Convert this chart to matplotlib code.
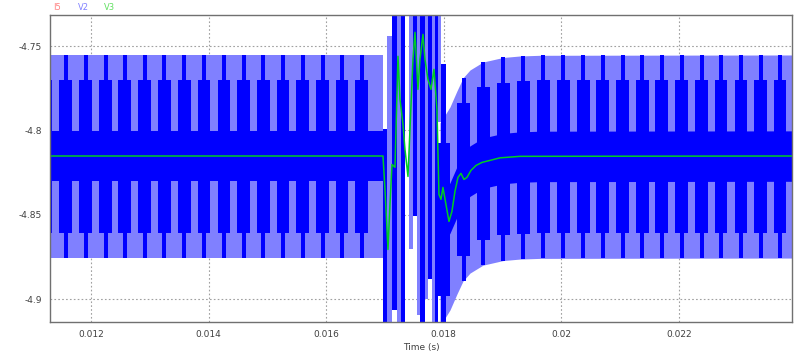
import numpy as np
import matplotlib.pyplot as plt

# axis ranges (s, V)
t_lim = (0.011303, 0.023922)
v_lim = (-4.9136, -4.7316)
t_ticks = [0.012, 0.014, 0.016, 0.018, 0.02, 0.022]
t_ticklabels = ['0.012', '0.014', '0.016', '0.018', '0.02', '0.022']
v_ticks = [-4.9, -4.85, -4.8, -4.75]
v_ticklabels = ['-4.9', '-4.85', '-4.8', '-4.75']

# V2 switching band levels (steady state)
env_top, env_bot = -4.7553, -4.8757
blk_top, blk_bot = -4.7702, -4.8607
core_top, core_bot = -4.8003, -4.8302

# steady section before the disturbance
steady_t = [0.011303, 0.016966]

# switching pulse centres (s)
pulses_left = [0.011235, 0.011570, 0.011910, 0.012250, 0.012573, 0.012913, 0.013247,
               0.013587, 0.013922, 0.014262, 0.014597, 0.014930, 0.015265, 0.015600,
               0.015940, 0.016269, 0.016604]
pulses_right = [0.018002, 0.018337, 0.018672, 0.019012, 0.019352, 0.019692, 0.020032,
                0.020372, 0.020702, 0.021042, 0.021375, 0.021705, 0.022045, 0.022386,
                0.022714, 0.023054, 0.023389, 0.023717]
pulses_right_shift = [0.0374, 0.0136, 0.0042, 0.0015, 0.0006, 0.0002, 0, 0, 0,
                      0, 0, 0, 0, 0, 0, 0, 0, 0]

# recovery: downward shift of the band after the disturbance
rec_t = [0.017935, 0.018020, 0.018105, 0.018224, 0.018327, 0.018446, 0.018667,
         0.019007, 0.019296, 0.019636, 0.023922]
rec_shift = [0.0403, 0.0356, 0.0308, 0.0213, 0.0136, 0.0089, 0.0042,
             0.0015, 0.0006, 0.0002, 0.0]

# disturbance: big swings of V2 (start, end, low, high)
dark_t0 = [0.016966, 0.017119, 0.017272, 0.017476, 0.017595, 0.017731, 0.017850, 0.017952]
dark_t1 = [0.017034, 0.017204, 0.017340, 0.017544, 0.017680, 0.017799, 0.017901, 0.018037]
dark_lo = [-4.92, -4.9062, -4.92, -4.8510, -4.92, -4.8884, -4.92, -4.92]
dark_hi = [-4.7994, -4.72, -4.72, -4.72, -4.72, -4.72, -4.72, -4.7609]
light_t0 = [0.017034, 0.017204, 0.017408, 0.017544, 0.017680, 0.017799, 0.017901]
light_t1 = [0.017119, 0.017272, 0.017476, 0.017595, 0.017731, 0.017850, 0.017952]
light_lo = [-4.92, -4.92, -4.8706, -4.9097, -4.9002, -4.92, -4.7953]
light_hi = [-4.7442, -4.72, -4.72, -4.72, -4.72, -4.72, -4.7324]

# V3 (average)
v3_t = [0.011303, 0.016966, 0.017000, 0.017051, 0.017085, 0.017119, 0.017170, 0.017221,
        0.017255, 0.017306, 0.017340, 0.017391, 0.017425, 0.017476, 0.017510, 0.017561,
        0.017595, 0.017646, 0.017680, 0.017731, 0.017782, 0.017833, 0.017884, 0.017918,
        0.017952, 0.017986, 0.018037, 0.018088, 0.018139, 0.018190, 0.018241, 0.018292,
        0.018343, 0.018394, 0.018463, 0.018548, 0.018650, 0.018786, 0.018956, 0.019296,
        0.023922]
v3_v = [-4.8152, -4.8152, -4.8350, -4.8706, -4.8439, -4.8202, -4.8219, -4.7561,
        -4.7816, -4.7964, -4.8113, -4.8273, -4.7994, -4.7579, -4.7419, -4.7757,
        -4.7579, -4.7431, -4.7579, -4.7698, -4.7757, -4.7638, -4.7875, -4.8380,
        -4.8409, -4.8338, -4.8439, -4.8540, -4.8480, -4.8362, -4.8279, -4.8255,
        -4.8291, -4.8279, -4.8237, -4.8208, -4.8190, -4.8178, -4.8163, -4.8154,
        -4.8152]

light = '#8080ff'
dark = '#0000ff'
narrow_w = 0.000068
wide_w = 0.000216

fig = plt.figure(figsize=(8, 3.55), dpi=100)
ax = fig.add_axes([0.0625, 0.093, 0.9275, 0.8648])

# steady band
ax.fill_between(steady_t, env_bot, env_top, color=light, lw=0)
ax.fill_between(steady_t, core_bot, core_top, color=dark, lw=0)
ax.bar(pulses_left, env_top - env_bot, bottom=env_bot, width=narrow_w, color=dark, lw=0)
ax.bar(pulses_left, blk_top - blk_bot, bottom=blk_bot, width=wide_w, color=dark, lw=0)

# recovering band
rs = np.array(rec_shift)
ax.fill_between(rec_t, env_bot - rs, env_top - rs, color=light, lw=0)
ax.fill_between(rec_t, core_bot - rs, core_top - rs, color=dark, lw=0)
ps = np.array(pulses_right_shift)
ax.bar(pulses_right, env_top - env_bot, bottom=env_bot - ps, width=narrow_w, color=dark, lw=0)
ax.bar(pulses_right, blk_top - blk_bot, bottom=blk_bot - ps, width=wide_w, color=dark, lw=0)

# disturbance
lt0, lt1 = np.array(light_t0), np.array(light_t1)
ax.bar((lt0 + lt1) / 2, np.array(light_hi) - np.array(light_lo), bottom=light_lo,
       width=lt1 - lt0, color=light, lw=0)
dt0, dt1 = np.array(dark_t0), np.array(dark_t1)
ax.bar((dt0 + dt1) / 2, np.array(dark_hi) - np.array(dark_lo), bottom=dark_lo,
       width=dt1 - dt0, color=dark, lw=0)

ax.plot(v3_t, v3_v, color='#00cc22', lw=1.1)

ax.set_xlim(t_lim)
ax.set_ylim(v_lim)
ax.set_xticks(t_ticks)
ax.set_xticklabels(t_ticklabels)
ax.set_yticks(v_ticks)
ax.set_yticklabels(v_ticklabels)
ax.tick_params(length=0, labelsize=6.5, labelcolor='#404040', pad=6)
ax.grid(True, linestyle=(0, (1.5, 2)), color='#a0a0a0', lw=0.8)
ax.set_axisbelow(True)
for s in ax.spines.values():
    s.set_color('#707070')
    s.set_linewidth(1.0)
ax.set_xlabel('Time (s)', fontsize=6.5, color='#404040', labelpad=3)

fig.text(53 / 800, 1 - 7 / 355, 'I5', color='#ff8080', fontsize=6, va='center')
fig.text(78 / 800, 1 - 7 / 355, 'V2', color='#8080ff', fontsize=6, va='center')
fig.text(104 / 800, 1 - 7 / 355, 'V3', color='#60e060', fontsize=6, va='center')

fig.savefig('out.png', dpi=100)
